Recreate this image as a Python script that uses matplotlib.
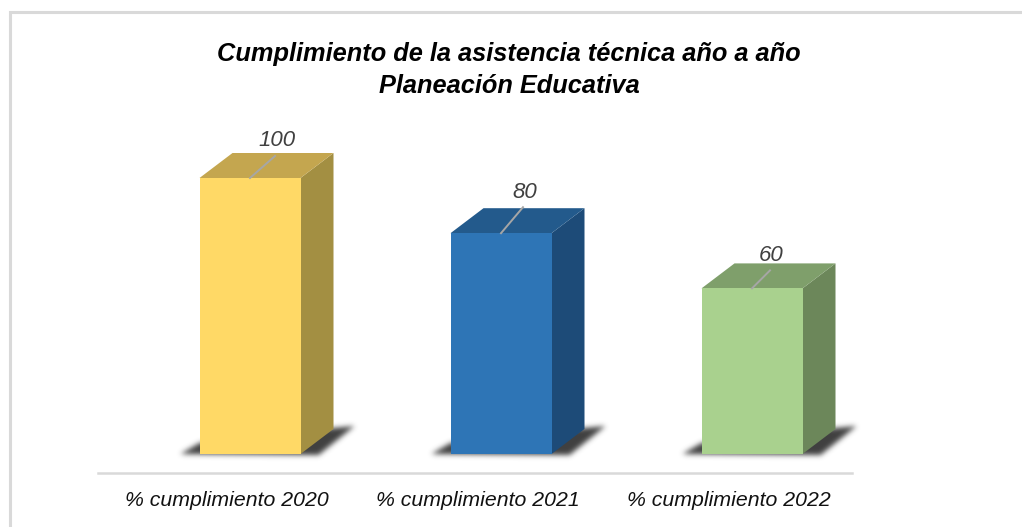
import matplotlib
matplotlib.use('Agg')
import matplotlib.pyplot as plt
from matplotlib.patches import Polygon
import numpy as np

categories = ['% cumplimiento 2020', '% cumplimiento 2021', '% cumplimiento 2022']
values = [100, 80, 60]
front_colors = ['#FFD966', '#2E75B6', '#A9D18E']
top_colors = ['#C4A64F', '#235A8C', '#7F9F6B']
side_colors = ['#A38F42', '#1D4B78', '#6C875A']
label_offsets = [(27, 38), (24, 41), (19, 33)]
leader_offsets = [(25, 22), (22, 26), (18, 18)]

title = 'Cumplimiento de la asistencia técnica año a año\nPlaneación Educativa'

plt.rcParams['font.family'] = ['Liberation Sans', 'DejaVu Sans']

# scale of the plot, in pixels per unit
PX_X = 251.0
PX_Y = 2.76
X0 = 250.0
Y0 = 454.0
W, H = 1022, 527
bar_w = 101 / PX_X
dx = 33 / PX_X
dy = 25 / PX_Y

fig = plt.figure(figsize=(W / 100, H / 100), dpi=100, facecolor='white')
ax = fig.add_axes([0, 0, 1, 1])
ax.set_xlim((0 - X0) / PX_X, (W - X0) / PX_X)
ax.set_ylim((Y0 - H) / PX_Y, Y0 / PX_Y)
ax.axis('off')

def px(x, y):
    return (x - X0) / PX_X, (Y0 - y) / PX_Y

def blur(img, dpi):
    # gaussian-ish blur for the shadow, keeps the colour and softens alpha
    pad = 12
    out = np.pad(img, ((pad, pad), (pad, pad), (0, 0)))
    kernel = np.exp(-np.arange(-8, 9) ** 2 / (2 * 2.6 ** 2))
    kernel /= kernel.sum()
    alpha = out[:, :, 3]
    alpha = np.apply_along_axis(lambda c: np.convolve(c, kernel, mode='same'), 0, alpha)
    alpha = np.apply_along_axis(lambda c: np.convolve(c, kernel, mode='same'), 1, alpha)
    out[:, :, :3] = 0.25
    out[:, :, 3] = alpha
    return out, -pad, -pad

# frame, open on the right
ax.plot(*zip(px(9.5, H), px(9.5, 12), px(W, 12)), color='#D9D9D9', lw=2.2, solid_joinstyle='miter')
# category axis
ax.plot(*zip(px(98, 473), px(852, 473)), color='#D9D9D9', lw=1.8)

for i, v in enumerate(values):
    l = i - bar_w / 2
    r = i + bar_w / 2

    # soft floor shadow
    shadow = [(l - 19 / PX_X, 0), (l, 11 / PX_Y), (r + dx, dy + 1 / PX_Y),
              (r + dx + 21 / PX_X, dy + 3 / PX_Y), (r + 18 / PX_X, -1 / PX_Y)]
    patch = Polygon(shadow, closed=True, facecolor='#333333', edgecolor='none', zorder=2)
    patch.set_agg_filter(blur)
    ax.add_patch(patch)

    ax.add_patch(Polygon([(r, 0), (r + dx, dy), (r + dx, v + dy), (r, v)],
                         facecolor=side_colors[i], edgecolor='none', zorder=3))
    ax.add_patch(Polygon([(l, v), (r, v), (r + dx, v + dy), (l + dx, v + dy)],
                         facecolor=top_colors[i], edgecolor='none', zorder=3))
    ax.add_patch(Polygon([(l, 0), (r, 0), (r, v), (l, v)],
                         facecolor=front_colors[i], edgecolor='none', zorder=4))

    # data label and its leader line
    ax.plot([i, i + leader_offsets[i][0] / PX_X], [v, v + leader_offsets[i][1] / PX_Y],
            color='#A6A6A6', lw=1.4, zorder=5)
    ax.text(i + label_offsets[i][0] / PX_X, v + label_offsets[i][1] / PX_Y, str(v),
            ha='center', va='center', fontsize=16, style='italic', color='#404040', zorder=6)

    ax.text(i - 23.5 / PX_X, px(0, 501)[1], categories[i], ha='center', va='center',
            fontsize=15.3, style='italic', color='#111111')

ax.text(px(509, 0)[0], px(0, 70)[1], title, ha='center', va='center', fontsize=18.3,
        style='italic', weight='bold', color='black', linespacing=1.45)

fig.savefig('out.png', dpi=100, facecolor='white')
plt.close()
